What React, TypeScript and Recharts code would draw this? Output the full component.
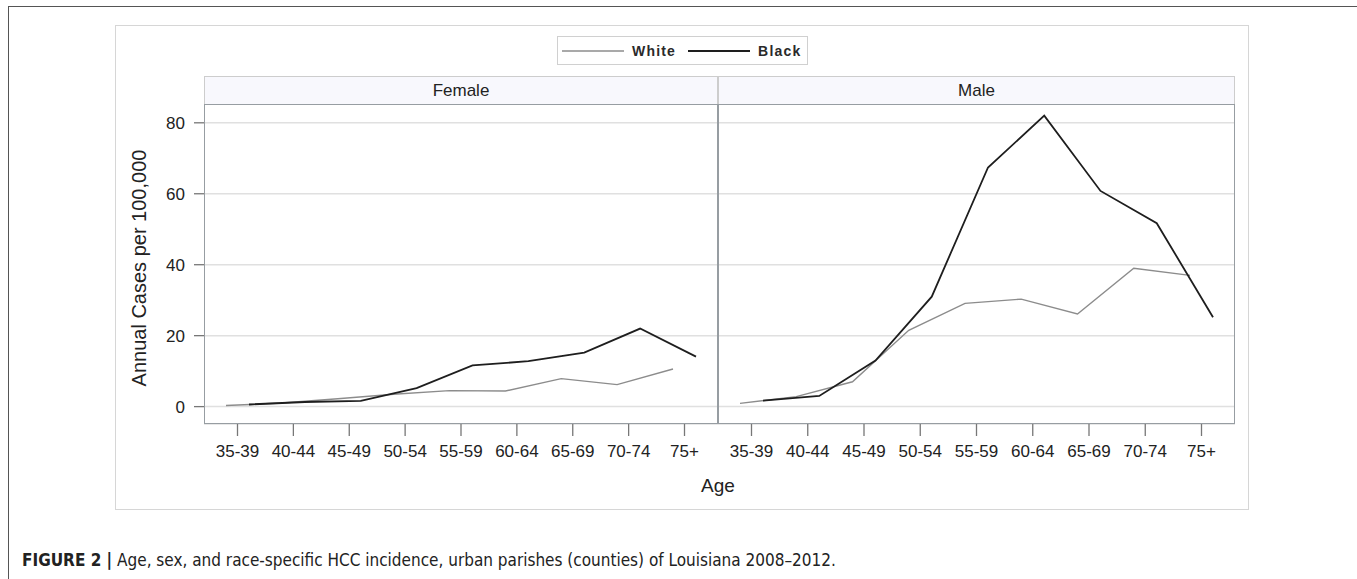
import { LineChart, Line, XAxis, YAxis, CartesianGrid } from 'recharts';

const AGE_GROUPS = ['35-39', '40-44', '45-49', '50-54', '55-59', '60-64', '65-69', '70-74', '75+'];
const FEMALE_WHITE = [0.3, 1.0, 2.2, 3.5, 4.5, 4.4, 7.9, 6.2, 10.6];
const FEMALE_BLACK = [0.6, 1.3, 1.6, 5.2, 11.6, 12.8, 15.2, 22.0, 14.1];
const MALE_WHITE = [0.9, 2.8, 7.0, 21.5, 29.1, 30.3, 26.1, 39.0, 37.0];
const MALE_BLACK = [1.7, 3.0, 13.0, 31.0, 67.4, 82.0, 60.8, 51.7, 25.2];
const Y_TICKS = [0, 20, 40, 60, 80];
const Y_DOMAIN = [-4.9, 85.3];
const SERIES = ['White', 'Black'];
const PANELS = ['Female', 'Male'];

const WHITE_COLOR = '#8c8c8c';
const BLACK_COLOR = '#1e1e1e';
const FONT = '"Liberation Sans", Arial, sans-serif';

const PLOT_TOP = 104;
const PLOT_H = 320;
const AXIS_H = 40;
const PAD = 33.5;
const SHIFT = 11.5;

function buildRows(white: number[], black: number[]) {
  return AGE_GROUPS.map((age, i) => ({ age, White: white[i], Black: black[i] }));
}

interface PanelProps {
  title: string;
  white: number[];
  black: number[];
  left: number;
  plotLeft: number;
  plotRight: number;
  showY: boolean;
}

function Panel({ title, white, black, left, plotLeft, plotRight, showY }: PanelProps) {
  const data = buildRows(white, black);
  const yWidth = plotLeft - left;
  const width = plotRight - left;
  return (
    <>
      <div
        style={{
          position: 'absolute',
          left: plotLeft,
          top: 76,
          width: plotRight - plotLeft,
          height: 28,
          boxSizing: 'border-box',
          background: '#f8f8fd',
          border: '1.5px solid #cdcdcd',
          borderBottom: 'none',
          textAlign: 'center',
          lineHeight: '27px',
          fontSize: 17,
          color: '#222',
        }}
      >
        {title}
      </div>
      <div style={{ position: 'absolute', left, top: PLOT_TOP }}>
        <LineChart width={width} height={PLOT_H + AXIS_H} data={data} margin={{ top: 0, right: 0, left: 0, bottom: 0 }}>
          <CartesianGrid vertical={false} stroke="#e0e0e0" strokeWidth={1.5} xAxisId="a" />
          <XAxis
            xAxisId="a"
            dataKey="age"
            height={AXIS_H}
            padding={{ left: PAD, right: PAD }}
            axisLine={false}
            tickSize={12}
            tickMargin={9}
            tickLine={{ stroke: '#777', strokeWidth: 1.3 }}
            tick={{ fill: '#222', fontSize: 17, fontFamily: FONT }}
            interval={0}
          />
          <XAxis xAxisId="w" dataKey="age" hide height={0} padding={{ left: PAD - SHIFT, right: PAD + SHIFT }} />
          <XAxis xAxisId="b" dataKey="age" hide height={0} padding={{ left: PAD + SHIFT, right: PAD - SHIFT }} />
          <YAxis
            hide={!showY}
            width={yWidth}
            domain={Y_DOMAIN}
            ticks={Y_TICKS}
            allowDataOverflow
            axisLine={false}
            tickSize={10}
            tickMargin={9}
            tickLine={{ stroke: '#777', strokeWidth: 1.3 }}
            tick={{ fill: '#222', fontSize: 17, fontFamily: FONT }}
          />
          <Line
            xAxisId="w"
            dataKey="White"
            stroke={WHITE_COLOR}
            strokeWidth={1.4}
            dot={false}
            isAnimationActive={false}
          />
          <Line
            xAxisId="b"
            dataKey="Black"
            stroke={BLACK_COLOR}
            strokeWidth={1.8}
            dot={false}
            isAnimationActive={false}
          />
        </LineChart>
      </div>
      <div
        style={{
          position: 'absolute',
          left: plotLeft,
          top: PLOT_TOP,
          width: plotRight - plotLeft,
          height: PLOT_H,
          boxSizing: 'border-box',
          border: '1.5px solid #979da2',
          pointerEvents: 'none',
        }}
      />
    </>
  );
}

function LegendBox() {
  const colors = [WHITE_COLOR, BLACK_COLOR];
  const widths = [1.6, 2];
  return (
    <div
      style={{
        position: 'absolute',
        left: 557,
        top: 36,
        width: 251,
        height: 29,
        boxSizing: 'border-box',
        border: '1.5px solid #d0d0d0',
        display: 'flex',
        alignItems: 'center',
        paddingLeft: 4,
        fontFamily: FONT,
        fontSize: 14,
        fontWeight: 'bold',
        letterSpacing: 1.2,
        color: '#2a2a2a',
      }}
    >
      {SERIES.map((s, i) => (
        <div key={s} style={{ display: 'flex', alignItems: 'center', marginRight: 12 }}>
          <svg width={62} height={6} style={{ marginRight: 8 }}>
            <line x1={0} y1={3} x2={62} y2={3} stroke={colors[i]} strokeWidth={widths[i]} />
          </svg>
          <span>{s}</span>
        </div>
      ))}
    </div>
  );
}

export default function App() {
  return (
    <div style={{ position: 'relative', width: 1357, height: 579, overflow: 'hidden', fontFamily: FONT, background: '#fff' }}>
      <style>{'body{margin:0}'}</style>
      {/* figure frame */}
      <div
        style={{
          position: 'absolute',
          left: 8,
          top: 6,
          width: 1360,
          height: 600,
          borderTop: '1.5px solid #555',
          borderLeft: '1.5px solid #555',
        }}
      />
      {/* graph frame */}
      <div
        style={{
          position: 'absolute',
          left: 115,
          top: 25,
          width: 1134,
          height: 485,
          boxSizing: 'border-box',
          border: '1.5px solid #d6d6d6',
        }}
      />
      <LegendBox />
      <Panel title={PANELS[0]} white={FEMALE_WHITE} black={FEMALE_BLACK} left={130} plotLeft={204} plotRight={718} showY />
      <Panel title={PANELS[1]} white={MALE_WHITE} black={MALE_BLACK} left={718} plotLeft={718} plotRight={1235} showY={false} />
      <div
        style={{
          position: 'absolute',
          left: 139 - 150,
          top: 268 - 12,
          width: 300,
          height: 24,
          textAlign: 'center',
          transform: 'rotate(-90deg)',
          fontSize: 20,
          color: '#222',
          lineHeight: '24px',
        }}
      >
        Annual Cases per 100,000
      </div>
      <div style={{ position: 'absolute', left: 618, top: 475, width: 200, textAlign: 'center', fontSize: 19, color: '#222' }}>
        Age
      </div>
      <div
        style={{
          position: 'absolute',
          left: 22,
          top: 550,
          fontSize: 17,
          color: '#222',
          fontFamily: '"Liberation Sans Narrow", "DejaVu Sans Condensed", "Arial Narrow", sans-serif',
          fontStretch: 'condensed',
          whiteSpace: 'nowrap',
        }}
      >
        <b>FIGURE 2 |</b> Age, sex, and race-specific HCC incidence, urban parishes (counties) of Louisiana 2008–2012.
      </div>
    </div>
  );
}
